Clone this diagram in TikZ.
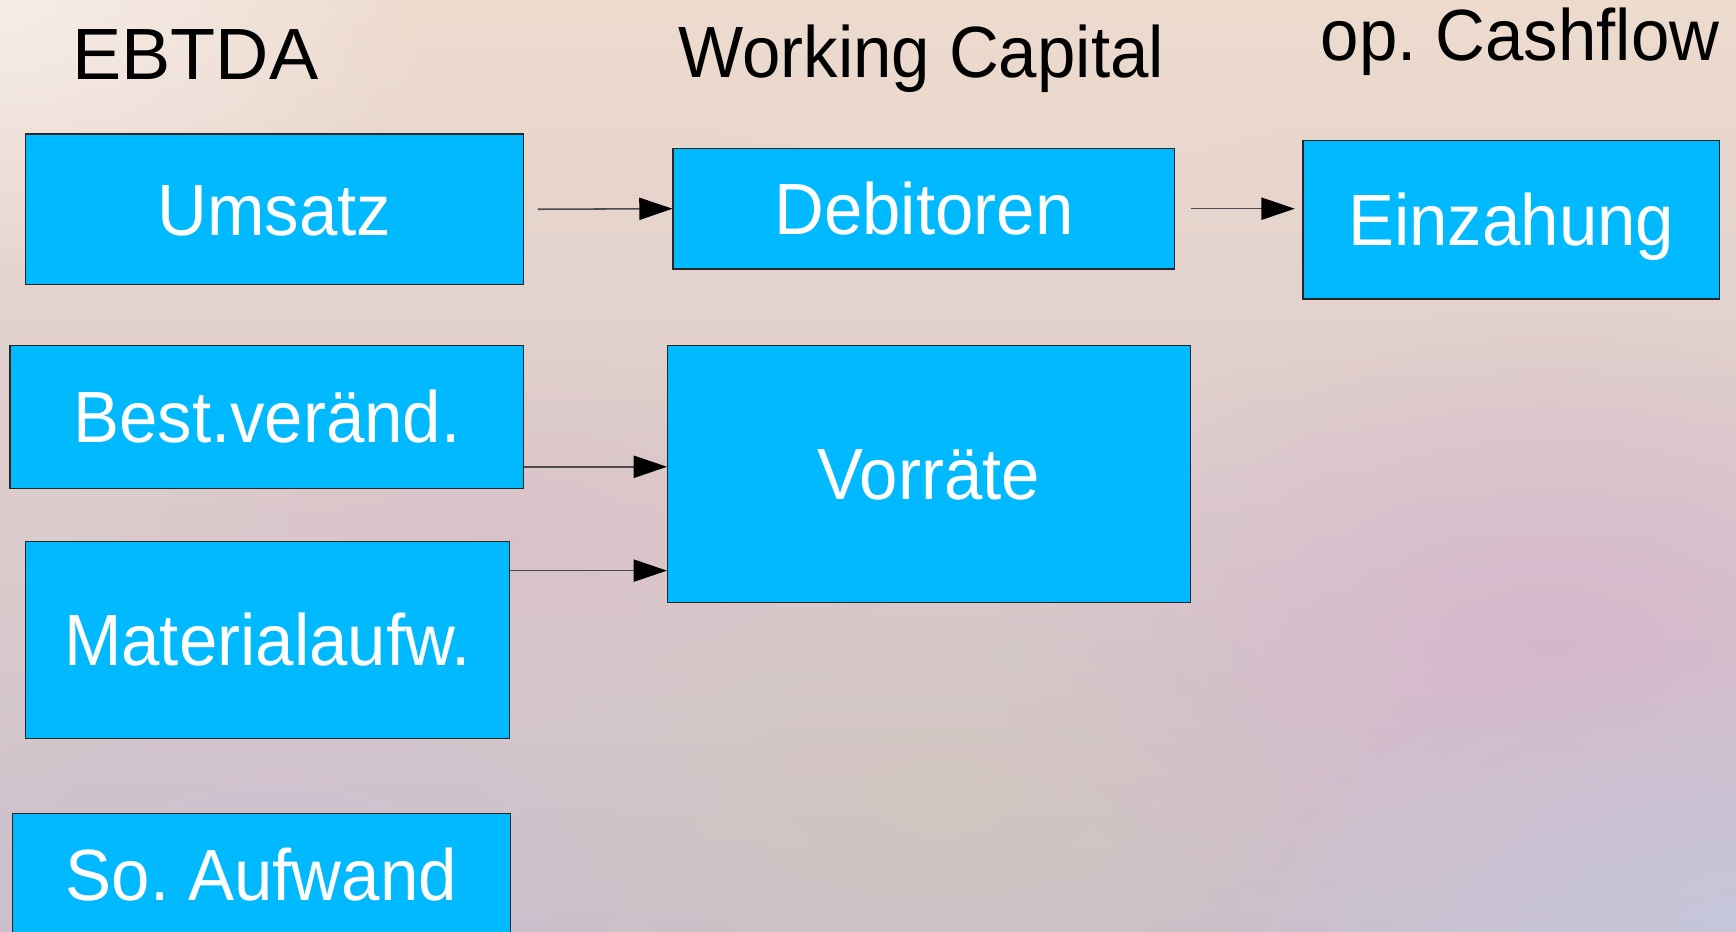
\documentclass[tikz,border=0pt]{standalone}
\usepackage{fontspec}
\setmainfont{Liberation Sans}[FakeStretch=0.95]
\usetikzlibrary{arrows.meta,fadings}
\tikzfading[name=softblob, inner color=transparent!0, outer color=transparent!100]
\frenchspacing
\definecolor{boxblue}{RGB}{0,185,255}
\definecolor{bgtop}{HTML}{EEDBCE}
\definecolor{bgmid}{HTML}{DFC3C3}
\definecolor{bgbot}{HTML}{CCC0CA}
\definecolor{bgwhite}{HTML}{F7EFEB}
\definecolor{bgmauve}{HTML}{D5B0CC}
\definecolor{bgpink}{HTML}{D9B8C8}
\definecolor{bgblue}{HTML}{C4C8DE}
\definecolor{bggrey}{HTML}{D2C7BA}
\definecolor{bglav}{HTML}{CFBED4}
\newcommand\bigfont{\fontsize{32.8pt}{36pt}\selectfont\frenchspacing}
\tikzset{
  box/.style={draw=black!85, line width=0.6pt, fill=boxblue, text=white, font=\bigfont,
    inner sep=0pt, text height=23.5pt, text depth=0pt, anchor=center},
  title/.style={font=\bigfont, text=black, anchor=base, inner sep=0pt},
  arr/.style={draw=black!70, line width=0.7pt, -{Triangle[length=15pt,width=10pt,color=black]}},
  blob/.style={path fading=softblob}
}
\begin{document}
\begin{tikzpicture}[x=0.5pt,y=0.5pt]
\useasboundingbox (0,0) rectangle (1568,-841);
% background
\shade[top color=bgtop, middle color=bgmid, bottom color=bgbot] (0,0) rectangle (1568,-841);
\fill[bgwhite, blob, fill opacity=0.9] (0,0) ellipse [x radius=400, y radius=260];
\fill[bgtop, blob, fill opacity=0.6] (900,0) ellipse [x radius=600, y radius=220];
\fill[bgmauve, blob, fill opacity=0.7] (1400,-580) ellipse [x radius=500, y radius=300];
\fill[bgpink, blob, fill opacity=0.5] (450,-480) ellipse [x radius=380, y radius=170];
\fill[bgblue, blob, fill opacity=0.85] (1568,-841) ellipse [x radius=480, y radius=260];
\fill[bggrey, blob, fill opacity=0.6] (850,-720) ellipse [x radius=380, y radius=200];
\fill[bglav, blob, fill opacity=0.6] (250,-780) ellipse [x radius=320, y radius=160];
% titles
\node[title] (t1) at (176.5,-72) {\scalebox{1.07}[1]{EBTDA}};
\node[title] (t2) at (832,-70) {Working Capital};
\node[title] (t3) at (1373,-55) {op. Cashflow};
% boxes
\node[box, minimum width=225pt, minimum height=68pt] (ums) at (248,-189) {Umsatz};
\node[box, minimum width=226.5pt, minimum height=54.5pt] (deb) at (834.5,-188.5) {Debitoren};
\node[box, minimum width=188pt, minimum height=71.5pt] (ein) at (1365,-198.5) {Einzahung};
\node[box, minimum width=232pt, minimum height=64.5pt] (best) at (241,-376.5) {Best.veränd.};
\node[box, minimum width=236pt, minimum height=116pt] (vor) at (839,-428) {Vorräte};
\node[box, minimum width=218.5pt, minimum height=89pt] (mat) at (241.5,-578) {Materialaufw.};
\node[box, minimum width=225pt, minimum height=55pt] (so) at (236,-790) {So. Aufwand};
% connectors
\draw[arr] ([xshift=6pt]ums.east) -- (deb.west);
\draw[arr, shorten >=3.5pt] ([xshift=7pt]deb.east) -- (deb.east -| ein.west);
\draw[arr] ([yshift=10pt]best.south east) -- ([yshift=10pt]best.south east -| vor.west);
\draw[arr] ([yshift=-13.5pt]mat.north east) -- ([yshift=-13.5pt]mat.north east -| vor.west);
\end{tikzpicture}
\end{document}
